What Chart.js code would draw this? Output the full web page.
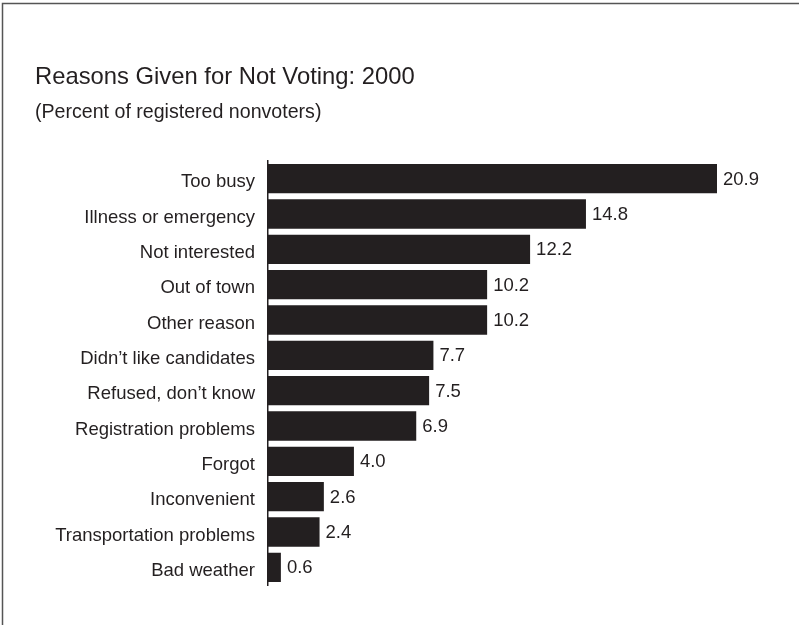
<!DOCTYPE html>
<html>
<head>
<meta charset="utf-8">
<script src="https://cdn.jsdelivr.net/npm/chart.js@4"></script>
<style>
html,body{margin:0;padding:0;background:#fff;}
#wrap{position:relative;width:799px;height:625px;}
</style>
</head>
<body>
<div id="wrap"><canvas id="c" width="799" height="625"></canvas></div>
<script>
const titleText = "Reasons Given for Not Voting: 2000";
const subtitleText = "(Percent of registered nonvoters)";
const categories = ["Too busy","Illness or emergency","Not interested","Out of town","Other reason","Didn\u2019t like candidates","Refused, don\u2019t know","Registration problems","Forgot","Inconvenient","Transportation problems","Bad weather"];
const percents = [20.9,14.8,12.2,10.2,10.2,7.7,7.5,6.9,4.0,2.6,2.4,0.6];

const FONT = "'Liberation Sans', Arial, Helvetica, sans-serif";
const INK = "#231f20";

const decor = {
  id: 'decor',
  beforeDraw(chart) {
    const ctx = chart.ctx;
    ctx.save();
    ctx.fillStyle = '#fff';
    ctx.fillRect(0, 0, chart.width, chart.height);
    ctx.strokeStyle = '#555';
    ctx.lineWidth = 1.5;
    ctx.beginPath();
    ctx.moveTo(2.5, chart.height);
    ctx.lineTo(2.5, 3.5);
    ctx.lineTo(chart.width, 3.5);
    ctx.stroke();
    ctx.fillStyle = INK;
    ctx.textAlign = 'left';
    ctx.textBaseline = 'alphabetic';
    ctx.font = "23.8px " + FONT;
    ctx.fillText(titleText, 35, 84);
    ctx.font = "19.6px " + FONT;
    ctx.fillText(subtitleText, 35, 118);
    ctx.restore();
  },
  afterDatasetsDraw(chart) {
    const ctx = chart.ctx;
    const meta = chart.getDatasetMeta(0);
    ctx.save();
    ctx.fillStyle = INK;
    ctx.font = "18.5px " + FONT;
    ctx.textAlign = 'left';
    ctx.textBaseline = 'middle';
    meta.data.forEach((bar, i) => {
      ctx.fillText(percents[i].toFixed(1), bar.x + 6, bar.y + 1);
    });
    ctx.restore();
  }
};

new Chart(document.getElementById('c'), {
  type: 'bar',
  data: {
    labels: categories,
    datasets: [{
      data: percents,
      backgroundColor: INK,
      borderWidth: 0,
      barPercentage: 0.83,
      categoryPercentage: 1.0
    }]
  },
  options: {
    indexAxis: 'y',
    responsive: false,
    animation: false,
    devicePixelRatio: 1,
    layout: { padding: { top: 161, bottom: 40, left: 0, right: 15.4 } },
    plugins: { legend: { display: false }, tooltip: { enabled: false } },
    scales: {
      x: { display: false, min: 0, max: 24 },
      y: {
        afterFit(s) { s.width = 268; },
        grid: { display: false, drawTicks: false },
        border: { display: true, color: INK, width: 1.5 },
        ticks: { color: INK, padding: 13, labelOffset: 3.5, font: { family: FONT, size: 18.5 } }
      }
    }
  },
  plugins: [decor]
});
</script>
</body>
</html>
